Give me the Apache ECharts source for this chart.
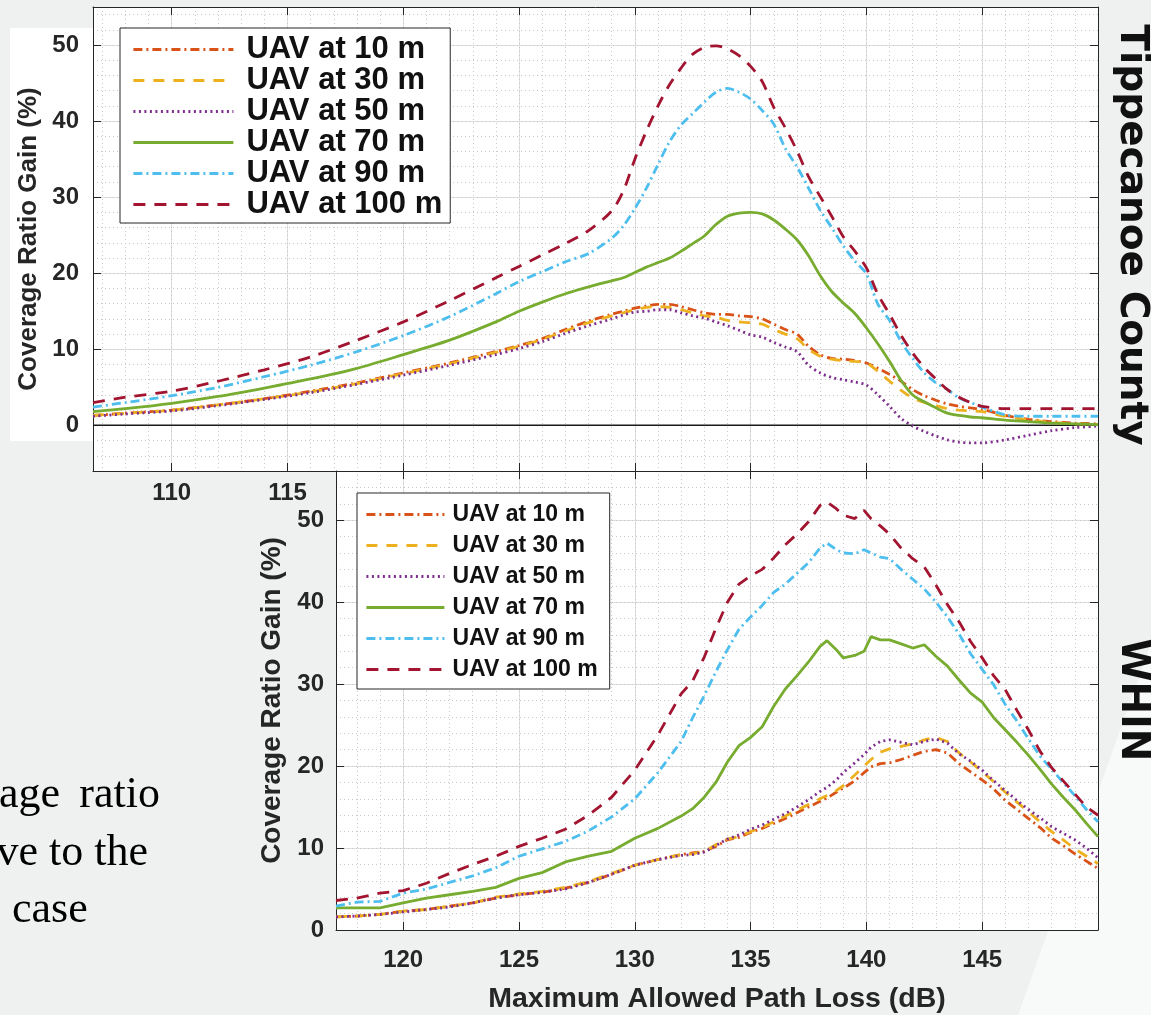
<!DOCTYPE html>
<html>
<head>
<meta charset="utf-8">
<script src="https://cdn.jsdelivr.net/npm/echarts@6/dist/echarts.min.js"></script>
<style>
  html, body { margin: 0; padding: 0; background: #eff1f0; }
  #chart { width: 1151px; height: 1015px; }
</style>
</head>
<body>
<div id="chart"></div>
<script>
// ---- data -------------------------------------------------------------
const seriesNames = ['UAV at 10 m', 'UAV at 30 m', 'UAV at 50 m', 'UAV at 70 m', 'UAV at 90 m', 'UAV at 100 m'];

// Tippecanoe County: path loss (dB)
const tippX = [106.6, 108, 110, 112, 114, 116, 118, 120, 122, 124,
  125, 126, 127, 128, 129, 129.5, 130, 130.5, 131, 131.5, 132, 132.5, 133, 133.5,
  134, 134.5, 135, 135.5, 136, 136.5, 137, 137.5, 138, 138.5, 139, 139.5, 140,
  140.5, 141, 141.5, 142, 142.5, 143, 143.5, 144, 144.5, 145, 146, 147, 148, 149, 150];
const tipp10 = [1.3, 1.6, 2.0, 2.7, 3.5, 4.5, 5.6, 6.9, 8.2, 9.7,
  10.5, 11.4, 12.6, 13.7, 14.6, 15.0, 15.4, 15.7, 15.9, 15.9, 15.6, 15.2, 14.8, 14.6,
  14.6, 14.4, 14.3, 14.0, 13.3, 12.6, 12.0, 10.4, 9.3, 8.8, 8.7, 8.5, 8.2,
  7.5, 6.7, 5.8, 4.7, 3.9, 3.3, 2.8, 2.5, 2.3, 2.1, 1.3, 0.8, 0.5, 0.3, 0.2];
const tipp30 = [1.3, 1.6, 2.0, 2.7, 3.5, 4.4, 5.5, 6.8, 8.1, 9.6,
  10.4, 11.3, 12.4, 13.5, 14.4, 14.8, 15.2, 15.5, 15.6, 15.5, 15.2, 14.8, 14.4, 14.2,
  13.8, 13.6, 13.5, 13.3, 12.6, 12.0, 11.4, 10.0, 9.1, 8.7, 8.5, 8.4, 8.2,
  7.1, 5.8, 4.6, 3.6, 3.0, 2.6, 2.2, 2.0, 1.9, 1.8, 1.2, 0.7, 0.4, 0.2, 0.1];
const tipp50 = [1.2, 1.5, 1.9, 2.6, 3.4, 4.3, 5.4, 6.6, 7.9, 9.3,
  10.1, 11.0, 12.1, 13.1, 14.0, 14.5, 14.9, 15.0, 15.2, 15.2, 14.8, 14.4, 14.1, 13.6,
  13.1, 12.5, 11.9, 11.6, 10.9, 10.3, 9.7, 7.9, 6.9, 6.3, 6.0, 5.7, 5.3,
  4.0, 2.5, 0.9, -0.1, -0.8, -1.4, -1.9, -2.2, -2.3, -2.3, -1.9, -1.3, -0.7, -0.3, -0.1];
const tipp70 = [1.8, 2.2, 2.9, 3.8, 4.9, 6.1, 7.5, 9.3, 11.2, 13.6,
  15.0, 16.2, 17.3, 18.2, 19.0, 19.4, 20.1, 20.8, 21.4, 22.0, 22.9, 23.9, 24.9, 26.4,
  27.5, 27.9, 28.0, 27.8, 27.0, 25.8, 24.4, 22.3, 19.7, 17.6, 16.1, 14.7, 12.8,
  10.7, 8.4, 5.9, 4.0, 3.1, 2.3, 1.6, 1.3, 1.1, 1.0, 0.7, 0.5, 0.3, 0.2, 0.1];
const tipp90 = [2.4, 3.0, 3.9, 5.0, 6.4, 7.9, 9.7, 11.8, 14.3, 17.3,
  18.9, 20.2, 21.5, 22.6, 24.6, 26.2, 28.5, 31.2, 34.3, 37.3, 39.5, 41.0, 42.5, 43.8,
  44.3, 43.8, 42.9, 41.4, 39.6, 36.4, 34.0, 31.2, 28.3, 26.0, 23.6, 21.6, 19.9,
  15.9, 13.8, 11.0, 8.8, 6.9, 5.6, 4.7, 3.6, 3.0, 2.4, 1.4, 1.2, 1.2, 1.2, 1.2];
const tipp100 = [3.0, 3.7, 4.5, 5.8, 7.3, 9.0, 11.2, 13.6, 16.4, 19.4,
  20.9, 22.4, 23.9, 25.6, 28.2, 30.8, 35.0, 38.7, 42.0, 44.8, 47.0, 48.8, 49.7, 49.9,
  49.5, 48.6, 47.2, 45.2, 41.8, 39.1, 36.1, 32.7, 30.1, 27.5, 24.8, 22.9, 20.7,
  17.2, 14.6, 11.8, 9.5, 7.6, 6.1, 4.7, 3.7, 3.0, 2.5, 2.2, 2.2, 2.2, 2.2, 2.2];

// WHIN: path loss (dB)
const whinX = [117.1, 118, 119, 120, 121, 122, 123, 124, 125, 126, 127, 128, 129, 130, 131, 132,
  132.5, 133, 133.5, 134, 134.5, 135, 135.5, 136, 136.5, 137, 137.5, 138,
  138.3, 138.7, 139, 139.5, 139.9, 140.2, 140.6,
  141, 141.5, 142, 142.5, 143, 143.5, 144, 144.5, 145, 145.5, 146, 146.5, 147, 147.5, 148, 148.5, 149, 149.5, 150];
const whin10 = [1.6, 1.7, 1.9, 2.3, 2.5, 2.9, 3.3, 3.9, 4.3, 4.6, 5.1, 5.8, 6.8, 7.9, 8.6, 9.2,
  9.4, 9.6, 10.2, 11.0, 11.3, 11.9, 12.4, 13.0, 13.6, 14.3, 15.0, 15.7,
  16.1, 16.8, 17.3, 18.2, 19.2, 19.9, 20.3,
  20.4, 20.8, 21.3, 21.8, 22.0, 21.6, 20.3, 19.3, 18.3, 17.2, 15.8, 14.7, 13.6, 12.5, 11.2, 10.3, 9.3, 8.4, 7.5];
const whin30 = [1.6, 1.7, 1.9, 2.3, 2.5, 2.9, 3.3, 4.0, 4.4, 4.7, 5.2, 5.9, 6.9, 7.9, 8.6, 9.2,
  9.3, 9.6, 10.4, 11.1, 11.4, 12.0, 12.5, 13.2, 13.9, 14.6, 15.3, 16.0,
  16.4, 17.0, 17.6, 18.9, 20.0, 20.8, 21.7,
  22.1, 22.4, 22.7, 23.2, 23.5, 23.0, 21.6, 20.5, 19.3, 18.1, 16.8, 15.6, 14.4, 13.2, 12.0, 11.0, 9.9, 9.0, 8.1];
const whin50 = [1.6, 1.7, 1.9, 2.2, 2.5, 2.8, 3.3, 3.9, 4.3, 4.6, 5.0, 5.8, 6.8, 7.9, 8.6, 9.1,
  9.2, 9.5, 10.3, 11.1, 11.6, 12.3, 12.8, 13.5, 14.2, 15.0, 15.9, 16.9,
  17.4, 18.3, 19.2, 20.4, 21.4, 22.3, 23.0,
  23.2, 22.9, 22.6, 23.0, 23.3, 22.8, 21.5, 20.6, 19.5, 18.2, 17.0, 15.8, 14.7, 13.7, 12.6, 11.8, 11.0, 10.0, 8.8];
const whin70 = [2.7, 2.7, 2.7, 3.3, 3.9, 4.3, 4.7, 5.2, 6.3, 7.0, 8.3, 9.0, 9.6, 11.2, 12.4, 13.9,
  14.8, 16.2, 18.0, 20.5, 22.5, 23.5, 24.8, 27.3, 29.4, 31.0, 32.7, 34.6,
  35.3, 34.2, 33.2, 33.5, 34.0, 35.8, 35.4,
  35.4, 34.9, 34.4, 34.8, 33.4, 32.2, 30.5, 28.9, 27.8, 25.9, 24.4, 22.9, 21.3, 19.6, 17.8, 16.2, 14.7, 13.0, 11.4];
const whin90 = [2.9, 3.4, 3.5, 4.5, 5.0, 5.8, 6.6, 7.6, 9.0, 9.9, 10.8, 12.1, 13.8, 16.0, 19.2, 23.0,
  25.9, 28.6, 31.5, 34.2, 36.7, 38.2, 39.6, 41.2, 42.2, 43.5, 44.8, 46.6,
  47.2, 46.4, 46.0, 45.9, 46.4, 46.0, 45.5,
  45.3, 44.0, 42.8, 41.6, 40.0, 38.2, 36.1, 33.7, 31.8, 29.9, 27.5, 25.5, 23.3, 21.2, 19.6, 18.0, 16.4, 14.7, 13.2];
const whin100 = [3.6, 3.9, 4.5, 4.8, 5.7, 6.9, 8.0, 9.0, 10.2, 11.2, 12.3, 14.0, 16.2, 19.5, 23.8, 28.8,
  30.4, 33.3, 36.8, 40.0, 42.2, 43.2, 44.0, 45.4, 47.0, 48.3, 49.8, 51.8,
  52.2, 51.4, 50.6, 50.2, 51.2, 50.2, 49.3,
  48.3, 46.6, 45.3, 44.3, 42.1, 39.7, 37.6, 35.2, 33.2, 31.0, 29.3, 26.8, 24.4, 21.8, 19.8, 18.2, 16.6, 15.0, 14.0];

const tippY = [tipp10, tipp30, tipp50, tipp70, tipp90, tipp100];
const whinY = [whin10, whin30, whin50, whin70, whin90, whin100];

// ---- styling ----------------------------------------------------------
const lineColors = ['#D95319', '#EDB120', '#7E2F8E', '#77AC30', '#4DBEEE', '#A2142F'];
const lineDashes = [[9, 4, 2, 4], [11, 9], [2, 3.5], 'solid', [9, 4, 2, 4], [12, 9]];
const LW = 2.8;
const INK = '#262626';
const SANS = '"Liberation Sans", Arial, sans-serif';
const SERIF = '44px "Liberation Serif", "Times New Roman", serif';
const majorGrid = { show: true, lineStyle: { color: '#dedede', width: 1 } };
const minorGrid = { show: true, lineStyle: { color: '#c9c9c9', width: 1, type: [1, 3] } };

function makeSeries(xs, ys, xIdx, yIdx, smooth) {
  return ys.map((vals, i) => ({
    name: seriesNames[i],
    type: 'line',
    xAxisIndex: xIdx,
    yAxisIndex: yIdx,
    data: xs.map((x, k) => [x, vals[k]]),
    symbol: 'none',
    smooth: smooth,
    silent: true,
    z: 3 + i,
    lineStyle: { color: lineColors[i], width: LW, type: lineDashes[i], cap: 'butt' },
    itemStyle: { color: lineColors[i] }
  }));
}

function mainX(grid, min, max, labelFmt, margin, extra) {
  return Object.assign({
    type: 'value', gridIndex: grid, position: 'bottom', min: min, max: max,
    minInterval: 5, maxInterval: 5, splitNumber: 8,
    axisLine: { show: true, onZero: false, lineStyle: { color: INK, width: 1 } },
    axisTick: { show: true, inside: true, length: 8, lineStyle: { color: INK } },
    axisLabel: { show: true, formatter: labelFmt, margin: margin, showMinLabel: false, showMaxLabel: false,
      color: INK, fontSize: 24, fontWeight: 'bold', fontFamily: SANS },
    splitLine: majorGrid
  }, extra || {});
}
function mirrorX(grid, min, max) {
  return {
    type: 'value', gridIndex: grid, position: 'top', min: min, max: max,
    minInterval: 5, maxInterval: 5, splitNumber: 8,
    axisLine: { show: true, onZero: false, lineStyle: { color: INK, width: 1 } },
    axisTick: { show: true, inside: true, length: 8, lineStyle: { color: INK } },
    axisLabel: { show: false }, splitLine: { show: false }
  };
}
function minorX(grid, min, max) {
  return {
    type: 'value', gridIndex: grid, position: 'bottom', min: min, max: max,
    minInterval: 1, maxInterval: 1, splitNumber: 40,
    axisLine: { show: false, onZero: false }, axisTick: { show: false }, axisLabel: { show: false },
    splitLine: minorGrid
  };
}
function mainY(grid, min, max, name, nameSize, nameGap, margin) {
  return {
    type: 'value', gridIndex: grid, position: 'left', min: min, max: max,
    minInterval: 10, maxInterval: 10, splitNumber: 6,
    name: name, nameLocation: 'middle', nameGap: nameGap,
    nameTextStyle: { color: INK, fontSize: nameSize, fontWeight: 'bold', fontFamily: SANS },
    axisLine: { show: true, onZero: false, lineStyle: { color: INK, width: 1 } },
    axisTick: { show: true, inside: true, length: 8, lineStyle: { color: INK } },
    axisLabel: { show: true, margin: margin, showMinLabel: min === 0, showMaxLabel: false,
      color: INK, fontSize: 24, fontWeight: 'bold', fontFamily: SANS },
    splitLine: majorGrid
  };
}
function mirrorY(grid, min, max) {
  return {
    type: 'value', gridIndex: grid, position: 'right', min: min, max: max,
    minInterval: 10, maxInterval: 10, splitNumber: 6,
    axisLine: { show: true, onZero: false, lineStyle: { color: INK, width: 1 } },
    axisTick: { show: true, inside: true, length: 8, lineStyle: { color: INK } },
    axisLabel: { show: false }, splitLine: { show: false }
  };
}
function minorY(grid, min, max) {
  return {
    type: 'value', gridIndex: grid, position: 'left', min: min, max: max,
    minInterval: 2, maxInterval: 2, splitNumber: 30,
    axisLine: { show: false, onZero: false }, axisTick: { show: false }, axisLabel: { show: false },
    splitLine: minorGrid
  };
}

const series = []
  .concat(makeSeries(tippX, tippY, 0, 0, 0.3))
  .concat(makeSeries(whinX, whinY, 3, 3, false));

// zero reference line of the Tippecanoe panel
series.push({
  name: 'zero', type: 'line', xAxisIndex: 0, yAxisIndex: 0, symbol: 'none', silent: true, z: 2,
  data: [[tippX[0], 0], [tippX[tippX.length - 1], 0]],
  lineStyle: { color: '#1a1a1a', width: 1.5 }
});

// legend rows show only the line sample (marker hidden)
function legendCfg(left, top, fontSize, lineLen, padding, gap, textPad) {
  return {
    data: seriesNames, orient: 'vertical', left: left, top: top,
    backgroundColor: '#ffffff', borderColor: INK, borderWidth: 1, borderRadius: 0,
    padding: padding, itemGap: gap, itemWidth: lineLen, itemHeight: 1,
    selectedMode: false,
    itemStyle: { opacity: 0, color: 'rgba(0,0,0,0)', borderWidth: 0 },
    lineStyle: { width: LW },
    textStyle: { color: '#111', fontSize: fontSize, fontWeight: 'bold', fontFamily: SANS,
      lineHeight: fontSize, padding: [0, 0, 0, textPad] }
  };
}

const option = {
  backgroundColor: '#eff1f0',
  animation: false,
  grid: [
    { left: 93, top: 7, width: 1005, height: 464, show: true, backgroundColor: '#ffffff', borderWidth: 0, containLabel: false },
    { left: 336, top: 471, width: 762, height: 463, show: true, backgroundColor: '#ffffff', borderWidth: 0, containLabel: false }
  ],
  xAxis: [
    mainX(0, tippX[0], 150, v => (v === 110 || v === 115) ? String(v) : '', 10),
    mirrorX(0, tippX[0], 150),
    minorX(0, tippX[0], 150),
    mainX(1, whinX[0], 150, v => String(v), 18, {
      name: 'Maximum Allowed Path Loss (dB)', nameLocation: 'middle', nameGap: 55,
      nameTextStyle: { color: INK, fontSize: 28.5, fontWeight: 'bold', fontFamily: SANS }
    }),
    mirrorX(1, whinX[0], 150),
    minorX(1, whinX[0], 150)
  ],
  yAxis: [
    mainY(0, -6, 55, 'Coverage Ratio Gain (%)', 26, 48, 14),
    mirrorY(0, -6, 55),
    minorY(0, -6, 55),
    mainY(1, 0, 56, 'Coverage Ratio Gain (%)', 28, 48, 12),
    mirrorY(1, 0, 56),
    minorY(1, 0, 56)
  ],
  legend: [
    legendCfg(120, 28, 31, 100, [6, 8, 3, 12], 0, 8),
    legendCfg(357, 493, 23, 78, [10, 12, 8, 8], 8, 3)
  ],
  graphic: [
    { type: 'polygon', z: -20, silent: true,
      shape: { points: [[1151, 644], [1151, 1015], [1018, 1015]] },
      style: { fill: '#f8f9f9' } },
    { type: 'rect', z: -10, silent: true,
      shape: { x: 10, y: 28, width: 83, height: 413 },
      style: { fill: '#ffffff' } },
    { type: 'text', z: -5, silent: true, x: -1, y: 795,
      style: { text: 'age', font: SERIF, fill: '#000', align: 'left', verticalAlign: 'middle' } },
    { type: 'text', z: -5, silent: true, x: 160, y: 795,
      style: { text: 'ratio', font: SERIF, fill: '#000', align: 'right', verticalAlign: 'middle' } },
    { type: 'text', z: -5, silent: true, x: 148, y: 853,
      style: { text: 've to the', font: SERIF, fill: '#000', align: 'right', verticalAlign: 'middle' } },
    { type: 'text', z: -5, silent: true, x: 12, y: 910,
      style: { text: 'case', font: SERIF, fill: '#000', align: 'left', verticalAlign: 'middle' } },
    { type: 'text', z: 10, silent: true, x: 1131, y: 235, rotation: -Math.PI / 2,
      style: { text: 'Tippecanoe County', font: 'bold 39px "DejaVu Sans", Verdana, sans-serif', fill: '#111', align: 'center', verticalAlign: 'middle' } },
    { type: 'text', z: 10, silent: true, x: 1132, y: 700, rotation: -Math.PI / 2,
      style: { text: 'WHIN', font: 'bold 39px "DejaVu Sans", Verdana, sans-serif', fill: '#111', align: 'center', verticalAlign: 'middle' } }
  ],
  series: series
};

const chart = echarts.init(document.getElementById('chart'), null, { renderer: 'canvas' });
chart.setOption(option);
</script>
</body>
</html>
